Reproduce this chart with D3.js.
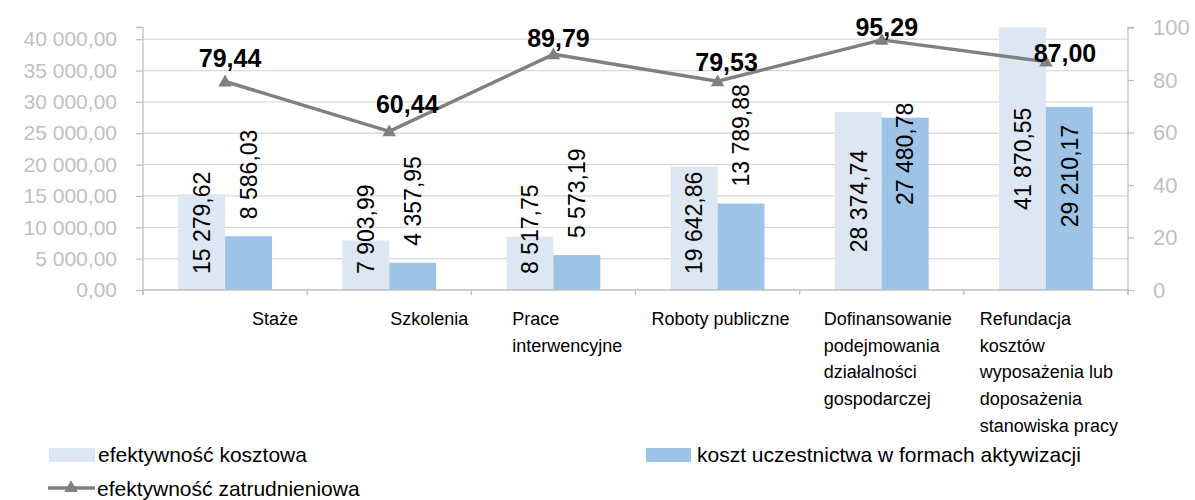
<!DOCTYPE html>
<html>
<head>
<meta charset="utf-8">
<script src="https://cdn.jsdelivr.net/npm/d3@7/dist/d3.min.js"></script>
<style>
  html, body { margin: 0; padding: 0; background: #fff; }
  svg { display: block; font-family: "Liberation Sans", Arial, sans-serif; }
</style>
</head>
<body>
<svg id="chart" width="1195" height="500"></svg>
<script>
// ---------- DATA ----------
const categoryLines = [
  ["Staże"],
  ["Szkolenia"],
  ["Prace", "interwencyjne"],
  ["Roboty publiczne"],
  ["Dofinansowanie", "podejmowania", "działalności", "gospodarczej"],
  ["Refundacja", "kosztów", "wyposażenia lub", "doposażenia", "stanowiska pracy"]
];
const categories = categoryLines.map(l => l.join(" "));
const seriesNames = ["efektywność kosztowa", "koszt uczestnictwa w formach aktywizacji", "efektywność zatrudnieniowa"];
const costEfficiency = [15279.62, 7903.99, 8517.75, 19642.86, 28374.74, 41870.55];
const participationCost = [8586.03, 4357.95, 5573.19, 13789.88, 27480.78, 29210.17];
const employmentEfficiency = [79.44, 60.44, 89.79, 79.53, 95.29, 87.00];
const leftTicks = [0, 5000, 10000, 15000, 20000, 25000, 30000, 35000, 40000];
const rightTicks = [0, 20, 40, 60, 80, 100];
const leftMax = 41870;
const rightMax = 100;

// ---------- LAYOUT / STYLE ----------
const plot = { left: 143, right: 1128, top: 27.5, bottom: 290 };
const colors = { light: "#dce7f3", dark: "#9dc3e6", line: "#808080", grid: "#d9d9d9", axis: "#bfbfbf", tickText: "#bfbfbf" };
// per-category label placement (Excel manual positions)
const catLabelDx = [109, 83, 41, 16, 24, 16];          // left edge offset within band
const lineLabelOffset = [[5, -23], [18, -27], [5, -16], [9, -19], [5, -13], [19, -9]];
const lightLabelMode = ["base", "base", "base", "base", "center", "center"];
const darkLabelMode = ["outside", "outside", "outside", "outside", "aboveTop", "insideEnd"];

const locale = d3.formatLocale({ decimal: ",", thousands: "\u00a0", grouping: [3], currency: ["", ""] });
const fmt2 = locale.format(",.2f");
const fmtInt = locale.format("d");

const svg = d3.select("#chart");

const x = d3.scaleBand().domain(categories).range([plot.left, plot.right]).paddingInner(0).paddingOuter(0);
const xs = d3.scaleBand().domain(["light", "dark"]).range([0, x.bandwidth()]).paddingInner(0).paddingOuter(0.75);
const yL = d3.scaleLinear().domain([0, leftMax]).range([plot.bottom, plot.top]);
const yR = d3.scaleLinear().domain([0, rightMax]).range([plot.bottom, plot.top]);

// gridlines
svg.append("g").selectAll("line").data(leftTicks.filter(d => d > 0)).join("line")
  .attr("x1", plot.left).attr("x2", plot.right)
  .attr("y1", d => yL(d)).attr("y2", d => yL(d))
  .attr("stroke", colors.grid).attr("stroke-width", 1.3);

// left axis
const gL = svg.append("g").attr("transform", `translate(${plot.left},0)`)
  .call(d3.axisLeft(yL).tickValues(leftTicks).tickFormat(fmt2).tickSize(7).tickPadding(19));
gL.select(".domain").attr("stroke", colors.axis).attr("stroke-width", 1.3)
  .attr("d", `M-7,${plot.top}H0V${plot.bottom + 5}`);
gL.selectAll(".tick line").attr("stroke", colors.axis).attr("stroke-width", 1.3);
gL.selectAll(".tick text").attr("fill", colors.tickText).attr("font-size", 21)
  .attr("font-family", "Liberation Sans, Arial, sans-serif");

// right axis
const gR = svg.append("g").attr("transform", `translate(${plot.right},0)`)
  .call(d3.axisRight(yR).tickValues(rightTicks).tickFormat(fmtInt).tickSize(6).tickPadding(19));
gR.select(".domain").attr("stroke", colors.axis).attr("stroke-width", 1.3)
  .attr("d", `M6,${plot.top}H0V${plot.bottom + 5}`);
gR.selectAll(".tick line").attr("stroke", colors.axis).attr("stroke-width", 1.3);
gR.selectAll(".tick text").attr("fill", colors.tickText).attr("font-size", 22)
  .attr("font-family", "Liberation Sans, Arial, sans-serif");

// bars
const groups = svg.append("g").selectAll("g").data(categories).join("g")
  .attr("transform", d => `translate(${x(d)},0)`);
groups.append("rect")
  .attr("x", xs("light")).attr("width", xs.bandwidth())
  .attr("y", (d, i) => yL(costEfficiency[i]))
  .attr("height", (d, i) => yL(0) - yL(costEfficiency[i]))
  .attr("fill", colors.light);
groups.append("rect")
  .attr("x", xs("dark")).attr("width", xs.bandwidth())
  .attr("y", (d, i) => yL(participationCost[i]))
  .attr("height", (d, i) => yL(0) - yL(participationCost[i]))
  .attr("fill", colors.dark);

// category axis
svg.append("line").attr("x1", plot.left).attr("x2", plot.right)
  .attr("y1", plot.bottom).attr("y2", plot.bottom)
  .attr("stroke", colors.axis).attr("stroke-width", 1.3);
const bounds = categories.map(c => x(c)).concat([plot.right]);
svg.append("g").selectAll("line").data(bounds).join("line")
  .attr("x1", d => d).attr("x2", d => d)
  .attr("y1", plot.bottom).attr("y2", plot.bottom + 5)
  .attr("stroke", colors.axis).attr("stroke-width", 1.3);

// category labels
const catG = svg.append("g");
categoryLines.forEach((lines, i) => {
  const t = catG.append("text")
    .attr("x", x(categories[i]) + catLabelDx[i]).attr("y", 325)
    .attr("font-size", 18).attr("fill", "#000");
  lines.forEach((ln, j) => {
    t.append("tspan").attr("x", x(categories[i]) + catLabelDx[i]).attr("y", 325 + j * 26.7).text(ln);
  });
});

// bar labels (rotated)
function barLabel(values, key, modes) {
  values.forEach((v, i) => {
    const cx = x(categories[i]) + xs(key) + xs.bandwidth() / 2;
    const top = yL(v), base = yL(0);
    let yPos, anchor;
    const m = modes[i];
    if (m === "base") { yPos = base - 16; anchor = "start"; }
    else if (m === "center") { yPos = (top + base) / 2; anchor = "middle"; }
    else if (m === "outside") { yPos = top - 17; anchor = "start"; }
    else if (m === "insideEnd") { yPos = top + 18; anchor = "end"; }
    else { yPos = top - 15; anchor = "end"; }
    svg.append("text")
      .attr("transform", `translate(${cx},${yPos}) rotate(-90)`)
      .attr("text-anchor", anchor).attr("dy", "0.36em")
      .attr("font-size", 23).attr("fill", "#000")
      .text(fmt2(v));
  });
}
barLabel(costEfficiency, "light", lightLabelMode);
barLabel(participationCost, "dark", darkLabelMode);

// line series
const cxLine = (d, i) => x(categories[i]) + x.bandwidth() / 2;
const lineGen = d3.line().x(cxLine).y(d => yR(d));
svg.append("path").datum(employmentEfficiency).attr("d", lineGen)
  .attr("fill", "none").attr("stroke", colors.line).attr("stroke-width", 3.5).attr("stroke-linejoin", "round");
const tri = d3.symbol().type(d3.symbolTriangle).size(80);
svg.append("g").selectAll("path").data(employmentEfficiency).join("path")
  .attr("d", tri)
  .attr("transform", (d, i) => `translate(${cxLine(d, i)},${yR(d) + 1})`)
  .attr("fill", colors.line);
svg.append("g").selectAll("text").data(employmentEfficiency).join("text")
  .attr("x", (d, i) => cxLine(d, i) + lineLabelOffset[i][0])
  .attr("y", (d, i) => yR(d) + lineLabelOffset[i][1])
  .attr("dy", "0.36em").attr("text-anchor", "middle")
  .attr("font-size", 25).attr("font-weight", "bold").attr("fill", "#000")
  .text(d => fmt2(d));

// legend
const leg = svg.append("g").attr("font-size", 21).attr("fill", "#000");
leg.append("rect").attr("x", 49).attr("y", 448).attr("width", 46).attr("height", 14).attr("fill", colors.light);
leg.append("text").attr("x", 98).attr("y", 455).attr("dy", "0.35em").text(seriesNames[0]);
leg.append("rect").attr("x", 646).attr("y", 448).attr("width", 45).attr("height", 14).attr("fill", colors.dark);
leg.append("text").attr("x", 697).attr("y", 455).attr("dy", "0.35em").text(seriesNames[1]);
leg.append("line").attr("x1", 48).attr("x2", 95).attr("y1", 488).attr("y2", 488)
  .attr("stroke", colors.line).attr("stroke-width", 3.5);
leg.append("path").attr("d", tri).attr("transform", "translate(71,488)").attr("fill", colors.line);
leg.append("text").attr("x", 97).attr("y", 489).attr("dy", "0.35em").text(seriesNames[2]);
</script>
</body>
</html>
